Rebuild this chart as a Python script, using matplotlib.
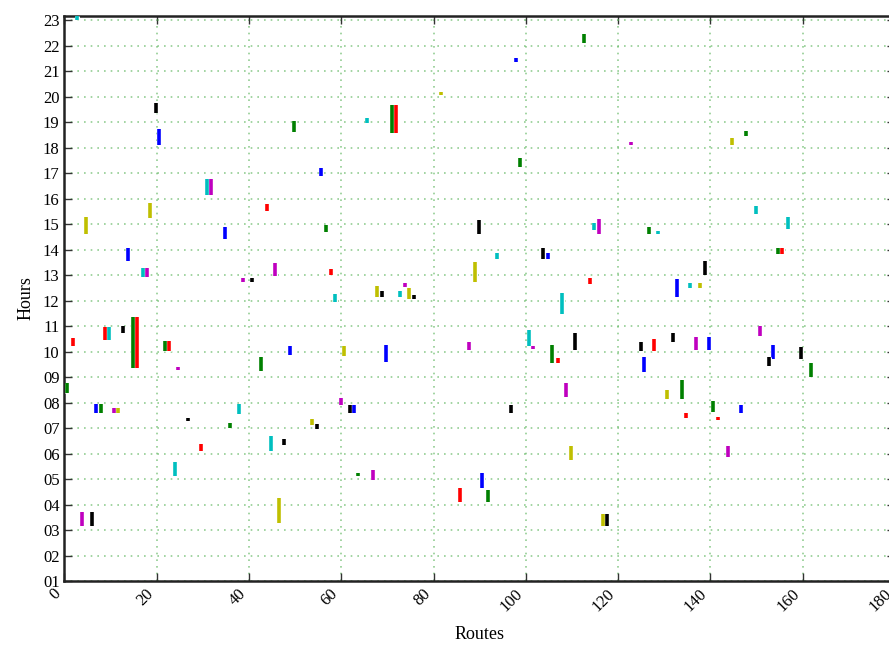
import matplotlib
matplotlib.use("Agg")
import matplotlib.pyplot as plt
import matplotlib.patheffects as pe
from matplotlib.ticker import FixedLocator, FuncFormatter

# Data: route index, start hour, end hour, color code
routes = [2.7, 19.8, 20.6, 30.8, 31.7, 18.5, 43.8, 49.7, 65.6, 70.9, 71.8, 81.6, 55.7,
          112.7, 97.9, 122.8, 98.7, 147.8, 144.6, 149.9, 4.75, 34.9, 13.8, 16.96, 17.8,
          38.6, 40.7, 45.6, 1.8, 8.7, 9.7, 12.8, 14.9, 15.7, 21.8, 22.7, 24.7, 42.7, 0.6,
          56.7, 89.8, 57.8, 58.7, 67.7, 68.9, 72.7, 73.8, 74.7, 75.8, 88.9, 48.8, 60.7,
          69.7, 87.7, 59.9, 93.8, 114.7, 115.9, 126.6, 128.6, 103.7, 104.9, 113.8, 132.7,
          107.8, 100.7, 101.6, 105.7, 106.9, 110.6, 124.9, 127.8, 125.7, 131.8, 108.6,
          130.6, 156.8, 154.7, 155.6, 138.8, 135.6, 137.7, 150.7, 136.8, 139.7, 153.6,
          152.7, 159.7, 161.8, 133.9, 6.8, 7.9, 10.8, 11.7, 26.8, 37.8, 35.8, 29.7, 44.8,
          23.9, 3.9, 5.9, 46.6, 61.9, 62.8, 53.7, 54.7, 47.6, 63.6, 66.8, 85.7, 96.7,
          109.8, 90.6, 91.8, 116.7, 117.6, 134.7, 140.6, 141.7, 146.6, 143.8]
start_hours = [23.0, 19.36, 18.1, 16.14, 16.14, 15.25, 15.5, 18.6, 18.95, 18.58, 18.58, 20.06, 16.88,
               22.11, 21.37, 18.1, 17.25, 18.45, 18.1, 15.4, 14.6, 14.4, 13.56, 12.93, 12.93,
               12.71, 12.72, 12.97, 10.23, 10.45, 10.45, 10.71, 9.34, 9.34, 10.03, 10.03, 9.27, 9.24, 8.38,
               14.7, 14.6, 12.99, 11.93, 12.15, 12.15, 12.13, 12.52, 12.07, 12.07, 12.72, 9.86, 9.82,
               9.6, 10.06, 7.9, 13.62, 14.76, 14.6, 14.6, 14.6, 13.62, 13.62, 12.66, 12.14,
               11.46, 10.23, 10.09, 9.54, 9.54, 10.06, 10.02, 10.02, 9.21, 10.38, 8.2,
               8.12, 14.82, 13.82, 13.82, 13.01, 12.5, 12.5, 10.61, 10.06, 10.06, 9.7,
               9.44, 9.7, 9.01, 8.12, 7.58, 7.58, 7.58, 7.58, 7.27, 7.54, 6.99, 6.1, 6.1,
               5.12, 3.16, 3.16, 3.26, 7.58, 7.58, 7.12, 6.96, 6.33, 5.1, 4.96, 4.11, 7.58,
               5.75, 4.64, 4.11, 3.16, 3.16, 7.4, 7.63, 7.3, 7.6, 5.86]
end_hours = [23.15, 19.76, 18.73, 16.75, 16.75, 15.83, 15.77, 19.03, 19.14, 19.65, 19.65, 20.19, 17.18,
             22.45, 21.52, 18.23, 17.6, 18.66, 18.36, 15.7, 15.29, 14.9, 14.07, 13.26, 13.26,
             12.9, 12.9, 13.48, 10.54, 10.95, 10.95, 11.0, 11.37, 11.37, 10.41, 10.41, 9.41, 9.8, 8.75,
             14.96, 15.17, 13.22, 12.25, 12.58, 12.38, 12.38, 12.7, 12.48, 12.2, 13.52, 10.22, 10.22,
             10.27, 10.36, 8.16, 13.85, 15.05, 15.18, 14.9, 14.74, 14.07, 13.88, 12.87, 12.84,
             12.31, 10.84, 10.23, 10.27, 9.73, 10.74, 10.37, 10.48, 9.8, 10.74, 8.78,
             8.51, 15.29, 14.07, 14.07, 13.55, 12.7, 12.7, 11.0, 10.58, 10.58, 10.25,
             9.8, 10.18, 9.54, 8.88, 7.94, 7.94, 7.77, 7.77, 7.4, 7.94, 7.21, 6.37, 6.69,
             5.68, 3.72, 3.72, 4.24, 7.9, 7.9, 7.35, 7.16, 6.58, 5.25, 5.35, 4.66, 7.9,
             6.29, 5.25, 4.57, 3.62, 3.62, 7.6, 8.05, 7.42, 7.9, 6.3]
color_codes = ['c', 'k', 'b', 'c', 'm', 'y', 'r', 'g', 'c', 'g', 'r', 'y', 'b',
               'g', 'b', 'm', 'g', 'g', 'y', 'c', 'y', 'b', 'b', 'c', 'm',
               'm', 'k', 'm', 'r', 'r', 'c', 'k', 'g', 'r', 'g', 'r', 'm', 'g', 'g',
               'g', 'k', 'r', 'c', 'y', 'k', 'c', 'm', 'y', 'k', 'y', 'b', 'y',
               'b', 'm', 'm', 'c', 'c', 'm', 'g', 'c', 'k', 'b', 'r', 'b',
               'c', 'c', 'm', 'g', 'r', 'k', 'k', 'r', 'b', 'k', 'm',
               'y', 'c', 'g', 'r', 'k', 'c', 'y', 'm', 'm', 'b', 'b',
               'k', 'k', 'g', 'g', 'b', 'g', 'm', 'y', 'k', 'c', 'g', 'r', 'c',
               'c', 'm', 'k', 'y', 'k', 'b', 'y', 'k', 'k', 'g', 'm', 'r', 'k',
               'y', 'b', 'g', 'y', 'k', 'r', 'g', 'r', 'b', 'm']

x_ticks = [0, 20, 40, 60, 80, 100, 120, 140, 160, 180]
y_ticks = list(range(1, 24))

palette = {'b': (0, 0, 1), 'g': (0, 0.5, 0), 'r': (1, 0, 0), 'c': (0, 0.75, 0.75),
           'm': (0.75, 0, 0.75), 'y': (0.75, 0.75, 0), 'k': (0, 0, 0)}

plt.rcParams['font.family'] = ['Liberation Serif', 'DejaVu Serif']

fig = plt.figure(figsize=(8.89, 6.46), dpi=100, facecolor='white')
ax = fig.add_axes([64.4 / 889, 65 / 646, (895 - 64.4) / 889, (630 - 65) / 646])

halo = [pe.Stroke(linewidth=3.6, foreground='white'), pe.Normal()]
for r, s0, s1, c in zip(routes, start_hours, end_hours, color_codes):
    ax.vlines(r, s0, s1, colors=[palette[c]], linewidth=2.6, zorder=3, path_effects=halo)

ax.set_xlim(0, 180)
ax.set_ylim(1, 23.16)
ax.xaxis.set_major_locator(FixedLocator(x_ticks))
ax.yaxis.set_major_locator(FixedLocator(y_ticks))
ax.yaxis.set_major_formatter(FuncFormatter(lambda v, p: "%02d" % int(round(v))))

ax.grid(True, color=(0.35, 0.7, 0.35), alpha=0.65, linestyle=(0, (1, 3.0)), linewidth=1.2, zorder=0)
ax.tick_params(direction='in', length=6, width=1, top=True, right=True, labelsize=12,
               color='#333333')
for lab in ax.get_xticklabels():
    lab.set_rotation(45)
    lab.set_ha('right')
for s in ax.spines.values():
    s.set_linewidth(1.8)
    s.set_color('#222222')

ax.set_xlabel('Routes', fontsize=13, labelpad=8)
ax.set_ylabel('Hours', fontsize=13, labelpad=6)

fig.savefig('out.png', dpi=100, facecolor='white')
